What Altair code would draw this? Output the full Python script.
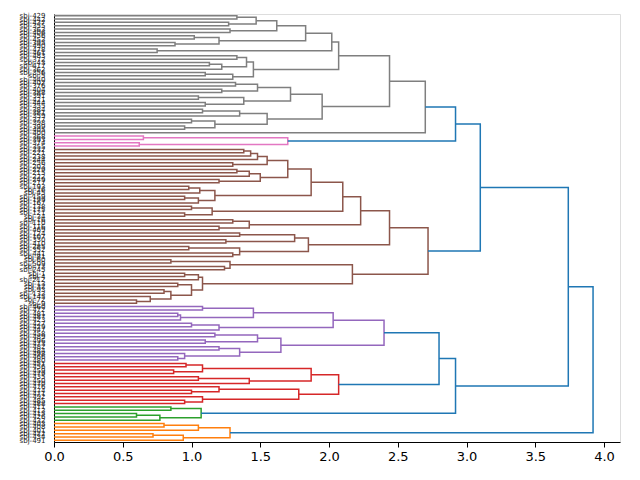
import altair as alt
import pandas as pd

# Leaf labels, top to bottom
labels = [f"sbj-{n}" for n in [
    429, 442, 437, 355, 363, 406, 456, 453, 395, 490, 478, 461, 483, 372, 43, 417,
    362, 356, 5, 440, 402, 376, 404, 388, 391, 421, 444, 355, 384, 381, 359, 377,
    398, 399, 405, 400, 368, 393, 374, 355,
    232, 221, 238, 244, 256, 203, 229, 215, 222, 249, 217, 193, 26, 45, 159, 199,
    167, 138, 175, 121, 34, 16, 110, 116, 469, 124, 107, 330, 410, 285, 352, 441,
    81, 60, 509, 73, 245, 1, 4, 212, 13, 32, 93, 133, 145, 72, 9,
    460, 472, 481, 487, 423, 427, 429, 447, 458, 489, 496, 473, 482, 484, 498, 466, 480,
    451, 456, 459, 479, 435, 450, 470, 476, 474, 471, 492, 485, 488,
    411, 413, 415, 426, 432,
    403, 408, 401, 422, 434, 491,
]]

# Merge trees: [height, left, right]; integers are leaf positions
gray = [2.70,
        [2.44,
         [2.07,
          [2.02,
           [1.83,
            [1.62, [1.47, [1.33, 0, 1], [1.27, 2, 3]], [1.28, 4, 5]],
            [1.20, [1.02, 6, 7], [0.88, 8, 9]]],
           [0.75, 10, 11]],
          [1.45,
           [1.40, [1.33, 12, 13], [1.22, [1.13, 14, 15], 16]],
           [1.30, [1.10, 17, 18], 19]]],
         [1.95,
          [1.72, [1.48, [1.32, 20, 21], [1.22, 22, 23]], [1.38, [1.05, 24, 25], [1.10, 26, 27]]],
          [1.55, [1.35, [1.08, 28, 29], 30], [1.17, [1.0, 31, 32], [0.95, 33, 34]]]]],
        35]
pink = [1.70, [0.65, 36, 37], [0.62, 38, 39]]
brown = [2.72,
         [2.44,
          [2.23,
           [2.10,
            [1.87,
             [1.70, [1.55, [1.48, [1.43, [1.38, 40, 41], 42], 43], [1.30, 44, 45]],
              [1.50, [1.42, [1.33, 46, 47], 48], [1.20, 49, 50]]],
             [1.17, [1.06, [0.98, 51, 52], 53], [1.05, [0.95, 54, 55], 56]]],
            [1.15, [1.0, 57, 58], [0.95, 59, 60]]],
           [1.42, [1.30, 61, 62], [1.20, 63, 64]]],
          [1.85, [1.75, [1.35, 65, 66], [1.25, 67, 68]], [1.35, [0.98, 69, 70], [1.30, 71, 72]]]],
         [2.17, [1.28, [0.85, 73, 74], [1.24, 75, 76]],
          [1.08, [1.05, [0.95, 77, 78], 79], [1.0, [0.9, 80, 81], [0.85, [0.8, 82, 83], [0.7, 84, [0.6, 85, 86]]]]]]]
purple = [2.40,
          [2.03, [1.45, [1.08, 87, 88], [0.92, [0.90, 89, 90], 91]], [1.20, [1.0, 92, 93], 94]],
          [1.65, [1.48, [1.17, 95, 96], [1.10, 97, 98]], [1.35, [1.20, 99, 100], [0.95, 101, [0.9, 102, 103]]]]]
red = [2.07,
       [1.87, [1.08, [0.96, 104, 105], [0.87, 106, 107]], [1.42, [1.05, 108, 109], 110]],
       [1.78, [1.20, 111, [1.0, 112, 113]], [1.08, 114, [0.95, 115, 116]]]]
green = [1.07, [0.85, 117, 118], [0.77, [0.6, 119, 120], 121]]
orange = [1.28, [1.05, [0.80, 122, 123], 124], [0.94, [0.72, 125, 126], 127]]

# Upper links joining the coloured clusters
root = [3.92,
        [3.74,
         [3.10, [2.92, gray, pink], brown],
         [2.92, [2.80, purple, red], green]],
        orange]

cluster_colors = [(gray, "#7f7f7f"), (pink, "#e377c2"), (brown, "#8c564b"),
                  (purple, "#9467bd"), (red, "#d62728"), (green, "#2ca02c"),
                  (orange, "#ff7f0e")]
above_color = "#1f77b4"

rows = []
link_id = [0]


def layout(node, color):
    """Return (height, leaf-axis position) of a node, collecting its links."""
    if isinstance(node, int):
        return 0.0, node * 10 + 5
    for tree, c in cluster_colors:
        if node is tree:
            color = c
    h, left, right = node
    hl, yl = layout(left, color)
    hr, yr = layout(right, color)
    lid = link_id[0]
    link_id[0] += 1
    for k, (x, y) in enumerate([(hl, yl), (h, yl), (h, yr), (hr, yr)]):
        rows.append({"link": lid, "k": k, "x": x, "y": y, "color": color})
    return h, (yl + yr) / 2


layout(root, above_color)
df = pd.DataFrame(rows)

n = len(labels)
label_expr = "[" + ",".join(f"'{s}'" for s in labels) + "][floor(datum.value / 10)]"

chart = alt.Chart(df).mark_line(strokeWidth=1.5).encode(
    x=alt.X("x:Q", scale=alt.Scale(domain=[0, 4.116], nice=False, zero=False),
            axis=alt.Axis(values=[0, 0.5, 1, 1.5, 2, 2.5, 3, 3.5, 4], format=".1f",
                          title=None, grid=False, labelFontSize=13, tickSize=5,
                          labelPadding=3, labelFlush=False, domainColor="black",
                          tickColor="black", labelColor="black", labelFont="DejaVu Sans")),
    y=alt.Y("y:Q", scale=alt.Scale(domain=[0, n * 10], nice=False, zero=False, reverse=True),
            axis=alt.Axis(values=[i * 10 + 5 for i in range(n)], labelExpr=label_expr,
                          title=None, grid=False, tickSize=0, labelPadding=9,
                          labelFontSize=7, labelColor="#222222", labelFont="DejaVu Sans",
                          domainColor="black", labelOverlap=False, labelBound=False,
                          labelFlush=False)),
    color=alt.Color("color:N", scale=None),
    detail="link:N",
    order="k:Q",
).properties(
    width=566, height=428,
    autosize=alt.AutoSizeParams(type="none"),
    padding={"left": 54, "top": 14, "right": 20, "bottom": 38},
).configure_view(stroke="black", strokeWidth=1).configure(background="white")

chart.save("out.html", embed_options={"renderer": "svg", "actions": False})
